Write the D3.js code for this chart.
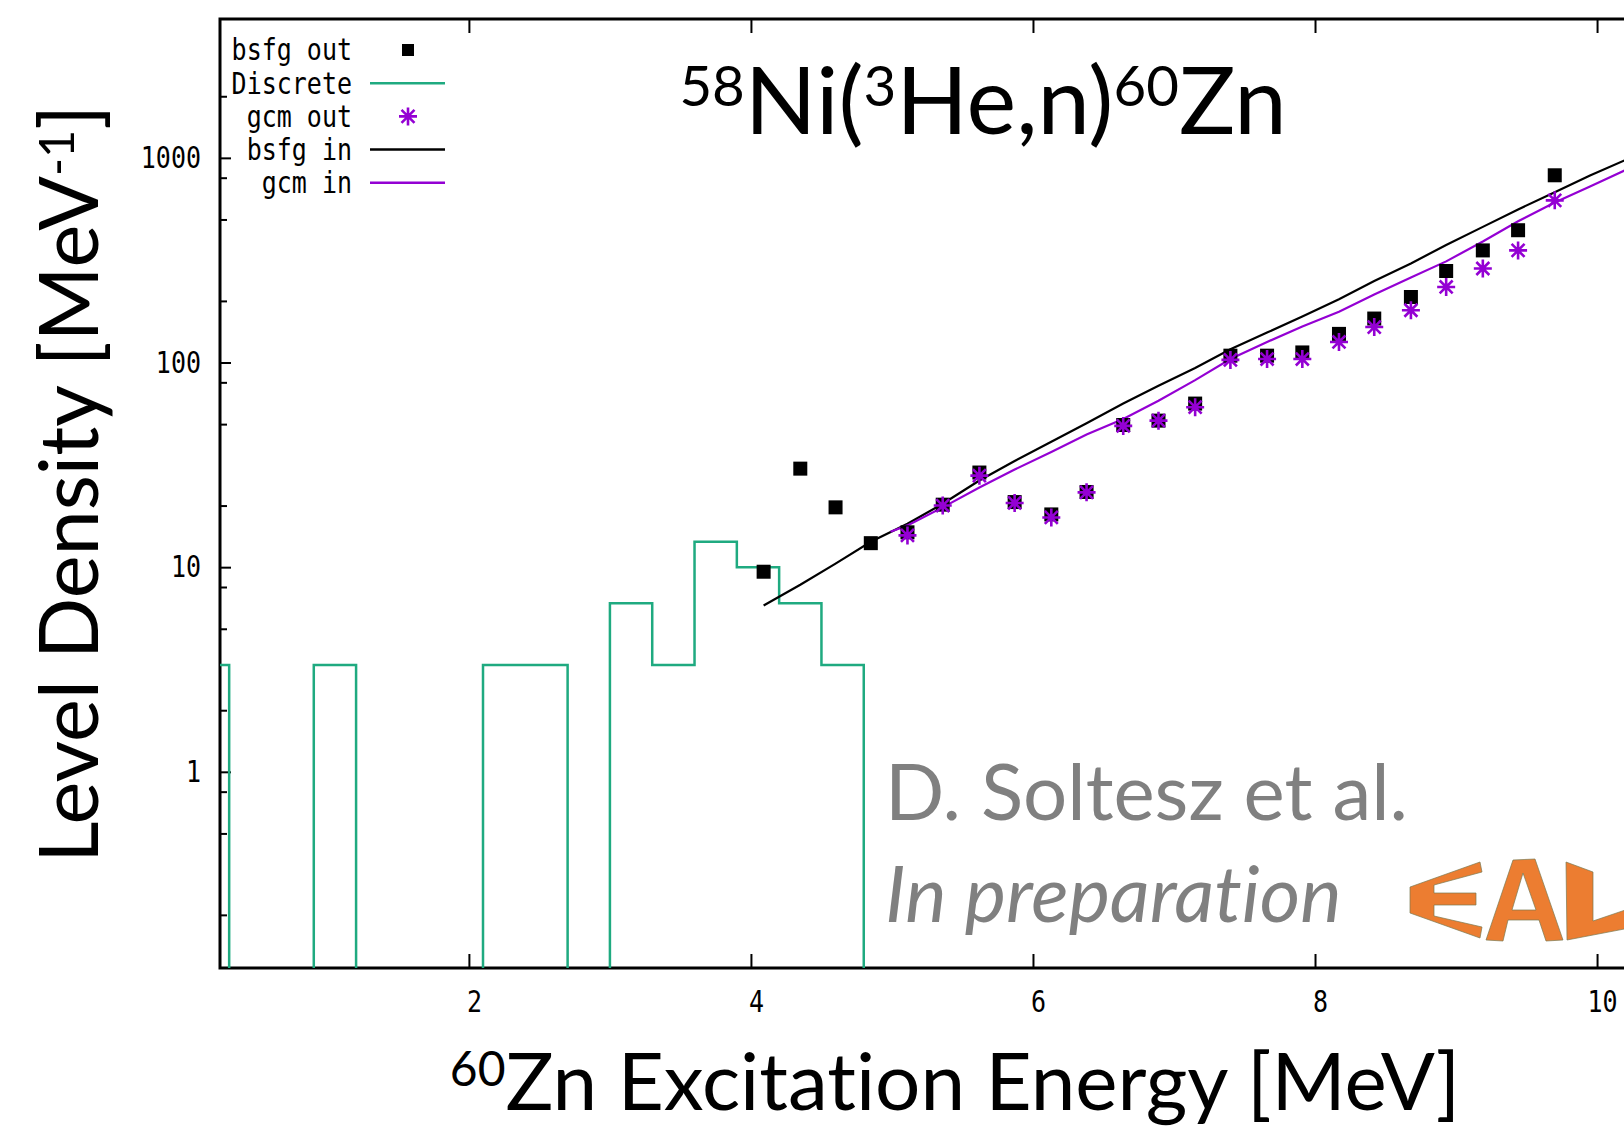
<!DOCTYPE html>
<html lang="en">
<head>
<meta charset="utf-8">
<title>60Zn level density</title>
<script src="https://d3js.org/d3.v7.min.js"></script>
<style>
  body { margin: 0; background: #fff; }
  svg { display: block; font-variant-ligatures: none; }
</style>
</head>
<body>
<svg width="1624" height="1132"></svg>
<script>
// ---- values ----
// axis ranges
var xMin = 0.235, xMax = 10.73;
var yMin = 0.11,  yMax = 4770;
var xTicks = [2, 4, 6, 8, 10];
var yTicks = [1, 10, 100, 1000];
var yMinor = [0.2, 0.5, 0.8, 2, 5, 8, 20, 50, 80, 200, 500, 800, 2000];

// discrete levels, 0.3 MeV bins (left edge), MeV^-1
var discreteE   = [0.0, 0.3, 0.6, 0.9, 1.2, 1.5, 1.8, 2.1, 2.4, 2.7, 3.0, 3.3, 3.6, 3.9, 4.2, 4.5, 4.8];
var discreteRho = [3.33, 0, 0, 3.33, 0, 0, 0, 3.33, 3.33, 0, 6.67, 3.33, 13.3, 10, 6.67, 3.33, 0];

// bsfg out (black squares)
var bsfgOutE = [4.09, 4.35, 4.60, 4.85, 5.11, 5.36, 5.62, 5.87, 6.13, 6.38, 6.64, 6.89,
                7.15, 7.40, 7.66, 7.91, 8.17, 8.42, 8.68, 8.93, 9.19, 9.44, 9.70];
var bsfgOut  = [9.5, 30.3, 19.6, 13.1, 14.8, 20.2, 29, 20.8, 18.1, 23.3, 49.5, 52,
                63, 108, 108, 112, 138, 164, 209, 280, 353, 443, 822];

// gcm out (purple asterisks)
var gcmOutE = [5.11, 5.36, 5.62, 5.87, 6.13, 6.38, 6.64, 6.89, 7.15, 7.40, 7.66, 7.91,
               8.17, 8.42, 8.68, 8.93, 9.19, 9.44, 9.70];
var gcmOut  = [14.3, 20, 28, 20.6, 17.5, 23.2, 49, 52, 60.5, 103, 104, 104,
               126, 149, 180, 234, 288, 353, 620];

// bsfg in (black line)
var bsfgInE = [4.09, 4.35, 4.60, 4.85, 5.11, 5.36, 5.62, 5.87, 6.13, 6.38, 6.64, 6.89, 7.15,
               7.40, 7.66, 7.91, 8.17, 8.42, 8.68, 8.93, 9.19, 9.44, 9.70, 9.95, 10.20, 10.45];
var bsfgIn  = [6.5, 8.2, 10.4, 13.3, 16.3, 20.4, 26.5, 33, 41, 50.5, 63, 77, 94,
               116, 140, 168, 204, 250, 305, 375, 460, 560, 680, 820, 975, 1170];

// gcm in (purple line)
var gcmInE = [4.99, 5.11, 5.36, 5.62, 5.87, 6.13, 6.38, 6.64, 6.89, 7.15, 7.40, 7.66,
              7.91, 8.17, 8.42, 8.68, 8.93, 9.19, 9.44, 9.70, 9.95, 10.20, 10.45];
var gcmIn  = [14.9, 16.0, 19.6, 24.5, 30, 36.5, 44.5, 53, 65, 82, 104, 126,
              150, 177, 215, 260, 312, 390, 490, 605, 725, 870, 1040];

var legendNames = ["bsfg out", "Discrete", "gcm out", "bsfg in", "gcm in"];

// ---- drawing ----
var svg = d3.select("svg");
var plot = {left: 220, top: 19, right: 1700, bottom: 968};
var color = {
    discrete: "#1faa80",
    purple: "#9400d3",
    black: "#000",
    note: "#808080",
    logo: "#ec7d31"
};
var mono = "'DejaVu Sans Mono', 'Liberation Mono', monospace";
var sans = "Lato, 'Open Sans', sans-serif";
var stretch = 1.22;   // gnuplot's bitmap font is taller than it is wide

var x = d3.scaleLinear().domain([xMin, xMax]).range([plot.left, plot.right]);
var y = d3.scaleLog().domain([yMin, yMax]).range([plot.bottom, plot.top]);

svg.append("rect").attr("width", 1624).attr("height", 1132).attr("fill", "#fff");

svg.append("clipPath").attr("id", "clip")
   .append("rect")
   .attr("x", plot.left).attr("y", plot.top)
   .attr("width", plot.right - plot.left).attr("height", plot.bottom - plot.top);

// axes (ticks point inwards, like gnuplot)
var gx = svg.append("g").attr("transform", "translate(0," + plot.bottom + ")")
    .call(d3.axisBottom(x).tickValues(xTicks).tickSize(-14).tickSizeOuter(0));
var gxTop = svg.append("g").attr("transform", "translate(0," + plot.top + ")")
    .call(d3.axisTop(x).tickValues(xTicks).tickSize(-14).tickSizeOuter(0).tickFormat(""));
var gy = svg.append("g").attr("transform", "translate(" + plot.left + ",0)")
    .call(d3.axisLeft(y).tickValues(yTicks).tickSize(-11).tickSizeOuter(0)
            .tickFormat(d3.format("d")));
var gyMinor = svg.append("g").attr("transform", "translate(" + plot.left + ",0)")
    .call(d3.axisLeft(y).tickValues(yMinor).tickSize(-7).tickSizeOuter(0).tickFormat(""));

[gx, gxTop, gy, gyMinor].forEach(function(g) {
    g.select(".domain").remove();
    g.selectAll(".tick line").attr("stroke", "#000").attr("stroke-width", 2);
    g.selectAll(".tick text").attr("font-family", mono).attr("font-size", 25).attr("fill", "#000")
     .attr("dy", null).attr("transform", "scale(1," + stretch + ")");
});
// tick label placement (baseline divided by the vertical stretch)
gx.selectAll(".tick text").attr("x", 5).attr("y", 44 / stretch);
gy.selectAll(".tick text").attr("x", -19).attr("y", 9.5 / stretch);

// frame
svg.append("path")
   .attr("d", "M" + plot.right + "," + plot.top + "H" + plot.left + "V" + plot.bottom + "H" + plot.right)
   .attr("fill", "none").attr("stroke", "#000").attr("stroke-width", 3);

var area = svg.append("g").attr("clip-path", "url(#clip)");

// discrete histogram
var hist = d3.line()
    .x(function(d) { return x(d[0]); })
    .y(function(d) { return d[1] > 0 ? y(d[1]) : plot.bottom + 10; })
    .curve(d3.curveStepAfter);
area.append("path")
    .attr("d", hist(discreteE.map(function(e, i) { return [e, discreteRho[i]]; })))
    .attr("fill", "none").attr("stroke", color.discrete).attr("stroke-width", 2.5);

// model lines
var line = d3.line()
    .x(function(d) { return x(d[0]); })
    .y(function(d) { return y(d[1]); });
area.append("path")
    .attr("d", line(bsfgInE.map(function(e, i) { return [e, bsfgIn[i]]; })))
    .attr("fill", "none").attr("stroke", color.black).attr("stroke-width", 2.2);
area.append("path")
    .attr("d", line(gcmInE.map(function(e, i) { return [e, gcmIn[i]]; })))
    .attr("fill", "none").attr("stroke", color.purple).attr("stroke-width", 2.2);

function starPath(r) {
    var k = r * 0.72;
    return "M" + (-r) + ",0H" + r + "M0," + (-r) + "V" + r +
           "M" + (-k) + "," + (-k) + "L" + k + "," + k +
           "M" + (-k) + "," + k + "L" + k + "," + (-k);
}

// data points
area.selectAll(".bsfgOut").data(bsfgOutE).enter().append("rect")
    .attr("x", function(d) { return x(d) - 7; })
    .attr("y", function(d, i) { return y(bsfgOut[i]) - 7; })
    .attr("width", 14).attr("height", 14).attr("fill", color.black);
area.selectAll(".gcmOut").data(gcmOutE).enter().append("path")
    .attr("transform", function(d, i) { return "translate(" + x(d) + "," + y(gcmOut[i]) + ")"; })
    .attr("d", starPath(9))
    .attr("fill", "none").attr("stroke", color.purple).attr("stroke-width", 2.6);

// legend
var legend = svg.append("g");
legendNames.forEach(function(name, i) {
    var ly = 50 + i * 33.2;
    legend.append("text").text(name)
        .attr("x", 352).attr("y", (ly + 10.5) / stretch)
        .attr("transform", "scale(1," + stretch + ")")
        .attr("text-anchor", "end")
        .attr("font-family", mono).attr("font-size", 25).attr("fill", "#000");
    if (i === 0) {
        legend.append("rect").attr("x", 402).attr("y", ly - 6).attr("width", 12).attr("height", 12)
              .attr("fill", color.black);
    } else if (i === 2) {
        legend.append("path").attr("transform", "translate(408," + ly + ")")
              .attr("d", starPath(9)).attr("fill", "none")
              .attr("stroke", color.purple).attr("stroke-width", 2.6);
    } else {
        var c = i === 1 ? color.discrete : (i === 3 ? color.black : color.purple);
        legend.append("line").attr("x1", 370).attr("x2", 445).attr("y1", ly).attr("y2", ly)
              .attr("stroke", c).attr("stroke-width", 2.5);
    }
});

// big texts with superscripts
function rich(sel, parts, size) {
    parts.forEach(function(p, i) {
        var ts = sel.append("tspan").text(p[0]);
        if (p[1] === "sup") {
            ts.attr("font-size", size * 0.6).attr("dy", -size * 0.3);
        } else if (i > 0 && parts[i - 1][1] === "sup") {
            ts.attr("dy", size * 0.3);
        }
    });
}

var title = svg.append("text")
    .attr("x", 983).attr("y", 134).attr("text-anchor", "middle")
    .attr("font-family", sans).attr("font-size", 94).attr("fill", "#000");
rich(title, [["58", "sup"], ["Ni("], ["3", "sup"], ["He,n)"], ["60", "sup"], ["Zn"]], 94);

var xlabel = svg.append("text")
    .attr("x", 955).attr("y", 1110).attr("text-anchor", "middle")
    .attr("font-family", sans).attr("font-size", 80).attr("fill", "#000");
rich(xlabel, [["60", "sup"], ["Zn Excitation Energy [MeV]"]], 80);

var ylabel = svg.append("text")
    .attr("transform", "translate(98,484) rotate(-90)")
    .attr("text-anchor", "middle")
    .attr("font-family", sans).attr("font-size", 81).attr("fill", "#000");
rich(ylabel, [["Level Density [MeV"], ["-1", "sup"], ["]"]], 81);

svg.append("text").text("D. Soltesz et al.")
    .attr("x", 885).attr("y", 820)
    .attr("font-family", sans).attr("font-size", 78).attr("fill", color.note);
svg.append("text").text("In preparation")
    .attr("x", 885).attr("y", 922)
    .attr("font-family", sans).attr("font-size", 78).attr("font-style", "italic")
    .attr("fill", color.note);

// EAL logo (decoration)
var logoE = [[1410,887],[1480,862],[1482,872],[1434,885],[1434,893],[1476,893],[1476,905],
             [1434,905],[1434,916],[1482,927],[1480,938],[1410,913]];
var logoA = [[1486,940],[1513,860],[1535,859],[1563,940],[1546,941],[1539,920],[1508,920],[1503,941]];
var logoAHole = [[1512,910],[1523,873],[1536,910]];
var logoL = [[1566,862],[1593,872],[1593,921],[1640,905],[1640,926],[1567,940]];
function poly(pts) { return "M" + pts.map(function(p) { return p.join(","); }).join("L") + "Z"; }
var logo = svg.append("g").attr("fill", color.logo).attr("stroke", "#7a7a52").attr("stroke-width", 0.7);
logo.append("path").attr("d", poly(logoE));
logo.append("path").attr("d", poly(logoA) + poly(logoAHole)).attr("fill-rule", "evenodd");
logo.append("path").attr("d", poly(logoL));
</script>
</body>
</html>
